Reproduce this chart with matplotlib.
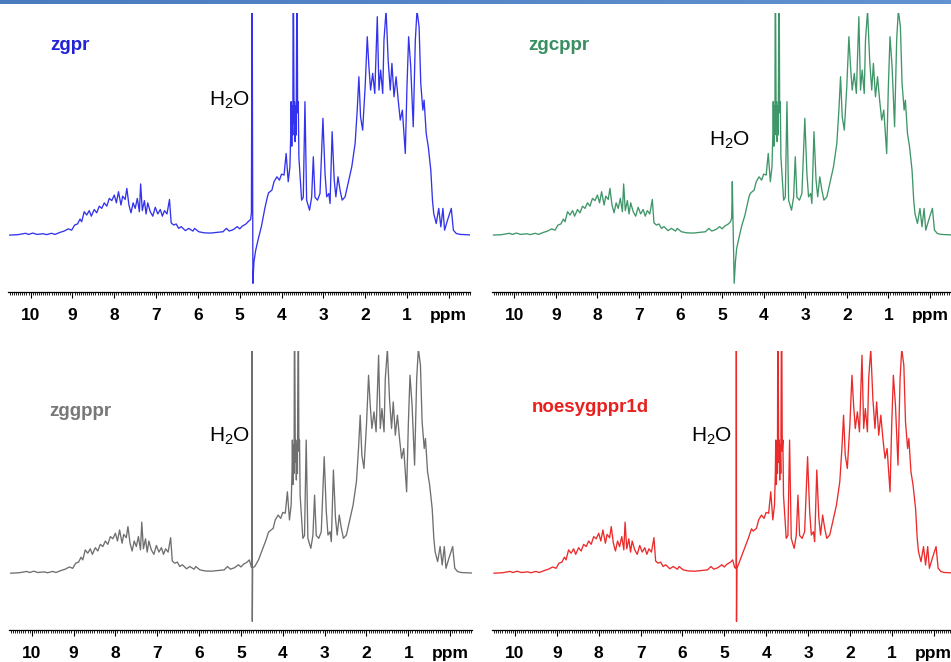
import matplotlib
matplotlib.use("Agg")
import matplotlib.pyplot as plt
import numpy as np
from matplotlib.ticker import MultipleLocator, FixedLocator, FixedFormatter

plt.rcParams['font.family'] = ['Liberation Sans', 'DejaVu Sans']
plt.rcParams['mathtext.default'] = 'regular'

# shared 1H spectrum, left part (aromatic side, before the water line)
left_ppm = [10.50, 10.30, 10.12, 10.05, 9.95, 9.85, 9.70, 9.62, 9.50, 9.42, 9.30, 9.20,
            9.10, 9.02, 8.95, 8.88, 8.82, 8.78, 8.72, 8.66, 8.60, 8.55, 8.48, 8.42, 8.36,
            8.30, 8.24, 8.18, 8.12, 8.06, 8.00, 7.95, 7.90, 7.84, 7.80, 7.74, 7.70, 7.65,
            7.60, 7.55, 7.50, 7.45, 7.40, 7.37, 7.33, 7.28, 7.24, 7.20, 7.14, 7.08, 7.02,
            6.96, 6.90, 6.85, 6.80, 6.74, 6.68, 6.64, 6.58, 6.52, 6.46, 6.40, 6.30, 6.22,
            6.12, 6.08, 5.98, 5.85, 5.70, 5.55, 5.40, 5.32, 5.25, 5.15, 5.06, 5.00, 4.94,
            4.85, 4.80]
left_int = [0.0, 0.2, 0.8, 0.3, 0.9, 0.3, 0.6, 0.2, 0.8, 0.3, 1.2, 1.8,
            2.8, 2.2, 4.5, 5.0, 7.2, 6.0, 10.5, 9.0, 11.0, 8.5, 11.5, 10.0, 13.0,
            12.0, 14.5, 13.0, 16.5, 15.5, 18.0, 14.5, 19.5, 13.5, 17.5, 16.0, 21.0, 13.5,
            10.0, 14.5, 12.0, 16.5, 10.5, 23.0, 11.0, 15.5, 9.5, 14.5, 10.5, 8.5, 12.5,
            9.5, 11.5, 8.5, 11.0, 9.5, 16.0, 5.5, 4.5, 5.0, 3.0, 3.8, 2.0, 3.0,
            1.8, 3.0, 1.5, 1.0, 0.9, 1.2, 1.5, 3.0, 1.8, 2.5, 3.8, 2.8, 4.0,
            5.0, 6.0]

# shared spectrum, right part (aliphatic side, after the water line)
right_ppm = [4.31, 4.23, 4.18, 4.11, 4.05, 4.00, 3.94, 3.89, 3.84, 3.80,
             3.78, 3.77, 3.755, 3.745, 3.73, 3.72, 3.70, 3.69, 3.675, 3.665, 3.65,
             3.63, 3.615, 3.60, 3.585,
             3.52, 3.48, 3.44, 3.40, 3.33, 3.28,
             3.24, 3.20, 3.14, 3.08, 3.01, 2.96, 2.92, 2.87, 2.84, 2.79, 2.74, 2.70,
             2.65, 2.60, 2.55, 2.48, 2.40, 2.32, 2.24, 2.19, 2.15, 2.11, 2.06, 2.00,
             1.95, 1.91, 1.87, 1.82, 1.77, 1.71, 1.67, 1.63, 1.58, 1.55, 1.50, 1.45,
             1.40, 1.36, 1.31, 1.26, 1.21, 1.16, 1.11, 1.04, 1.00, 0.96, 0.91, 0.85,
             0.80, 0.76, 0.71, 0.67, 0.62, 0.59, 0.54, 0.49, 0.43, 0.39, 0.36, 0.30,
             0.24, 0.19, 0.14, 0.10, 0.03, -0.02, -0.06, -0.11, -0.18, -0.27, -0.60]
right_int = [19.0, 20.2, 24.0, 26.2, 24.7, 27.4, 27.0, 36.7, 24.0, 30.7,
             45.0, 60.0, 40.0, 58.0, 45.0, 130.0, 50.0, 60.0, 42.0, 58.0, 45.0,
             130.0, 55.0, 60.0, 35.0,
             15.7, 17.0, 60.0, 15.7, 11.2, 17.0,
             35.2, 17.0, 15.7, 18.7, 52.5, 27.7, 17.2, 18.7, 14.2, 46.5, 24.7, 17.2,
             26.2, 20.2, 15.7, 17.2, 24.0, 30.7, 41.2, 56.2, 71.2, 53.2, 47.2, 66.7,
             89.2, 75.7, 65.2, 72.7, 63.7, 98.2, 65.2, 74.2, 63.7, 87.7, 101.0, 78.7,
             65.2, 77.2, 62.2, 71.2, 60.7, 51.7, 56.2, 36.7, 66.7, 89.2, 75.7, 48.7,
             87.7, 101.0, 93.7, 68.2, 56.2, 60.7, 45.7, 39.7, 29.2, 15.7, 9.7, 5.2,
             12.0, 3.7, 12.0, 2.2, 6.7, 9.7, 12.0, 2.2, 0.7, 0.3, 0.0]

# water region of each pulse sequence
water_ppm = {
    'zgpr':        [4.74, 4.72, 4.705, 4.685, 4.66, 4.62, 4.56, 4.48, 4.40, 4.34],
    'zgcppr':      [4.77, 4.755, 4.71, 4.68, 4.65, 4.58, 4.53, 4.45, 4.38, 4.34],
    'zggppr':      [4.75, 4.735, 4.732, 4.728, 4.72, 4.67, 4.58, 4.50, 4.40, 4.34],
    'noesygppr1d': [4.75, 4.715, 4.712, 4.708, 4.70, 4.66, 4.58, 4.50, 4.42, 4.35],
}
water_int = {
    'zgpr':        [7.0, 10.0, 130.0, -21.7, -12.0, -7.0, -2.0, 4.0, 12.0, 17.0],
    'zgcppr':      [7.5, 24.0, -21.7, -12.0, -6.0, 0.0, 4.0, 9.0, 15.0, 18.0],
    'zggppr':      [2.7, 2.5, 130.0, -21.7, 2.5, 3.0, 6.0, 10.0, 15.0, 18.5],
    'noesygppr1d': [2.5, 2.2, 130.0, -21.7, 2.2, 4.0, 8.0, 12.0, 16.0, 20.0],
}

names = ['zgpr', 'zgcppr', 'zggppr', 'noesygppr1d']
line_colors = ['#3333ee', '#3f9668', '#6f6f6f', '#ec2a2a']
text_colors = ['#2222d8', '#3a8f62', '#787878', '#e8201e']

tick_vals = [10, 9, 8, 7, 6, 5, 4, 3, 2, 1, 0]
tick_text = ['10', '9', '8', '7', '6', '5', '4', '3', '2', '1', 'ppm']

W, H = 951, 662
fig = plt.figure(figsize=(W / 100, H / 100), dpi=100)

# axes boxes in pixels: x0, x1, y_top, y_bottom
boxes = [(8.1, 470.1, 12.7, 292.0), (491.9, 951.1, 12.7, 292.0),
         (9.1, 471.5, 351.3, 630.0), (492.4, 954.9, 351.3, 630.0)]
title_pos = [(50, 45), (528, 45), (49, 411), (532, 408)]
h2o_pos = [(250, 100), (750, 140), (250, 436), (732, 436)]

for i, name in enumerate(names):
    x0, x1, yt, yb = boxes[i]
    ax = fig.add_axes([x0 / W, 1 - yb / H, (x1 - x0) / W, (yb - yt) / H])
    ppm = left_ppm + water_ppm[name] + right_ppm
    inten = left_int + water_int[name] + right_int
    ax.plot(ppm, inten, color=line_colors[i], lw=0.95)
    ax.set_xlim(10.54, -0.51)
    ax.set_ylim(-25.6, 100)
    for s in ['top', 'left', 'right']:
        ax.spines[s].set_visible(False)
    ax.spines['bottom'].set_linewidth(0.9)
    ax.set_yticks([])
    ax.xaxis.set_major_locator(FixedLocator(tick_vals))
    ax.xaxis.set_major_formatter(FixedFormatter(tick_text))
    ax.xaxis.set_minor_locator(MultipleLocator(0.05))
    ax.tick_params(axis='x', which='major', length=4.5, width=0.8, pad=7,
                   labelsize=12.5)
    ax.tick_params(axis='x', which='minor', length=1.8, width=0.6)
    for lab in ax.get_xticklabels():
        lab.set_fontweight('bold')

    tx, ty = title_pos[i]
    fig.text(tx / W, 1 - ty / H, name, color=text_colors[i], fontsize=13.5,
             fontweight='bold', ha='left', va='center')
    hx, hy = h2o_pos[i]
    fig.text(hx / W, 1 - hy / H, r'$\mathregular{H_2O}$', color='black',
             fontsize=15, ha='right', va='center')

# thin blue band along the top edge
band = fig.add_axes([0, 1 - 4 / H, 1, 4 / H])
grad = np.linspace(0, 1, 256).reshape(1, -1)
band.imshow(grad, aspect='auto', cmap=matplotlib.colors.LinearSegmentedColormap.from_list(
    'band', ['#4a7bbf', '#6392d0']))
band.axis('off')

fig.savefig('out.png', dpi=100)
